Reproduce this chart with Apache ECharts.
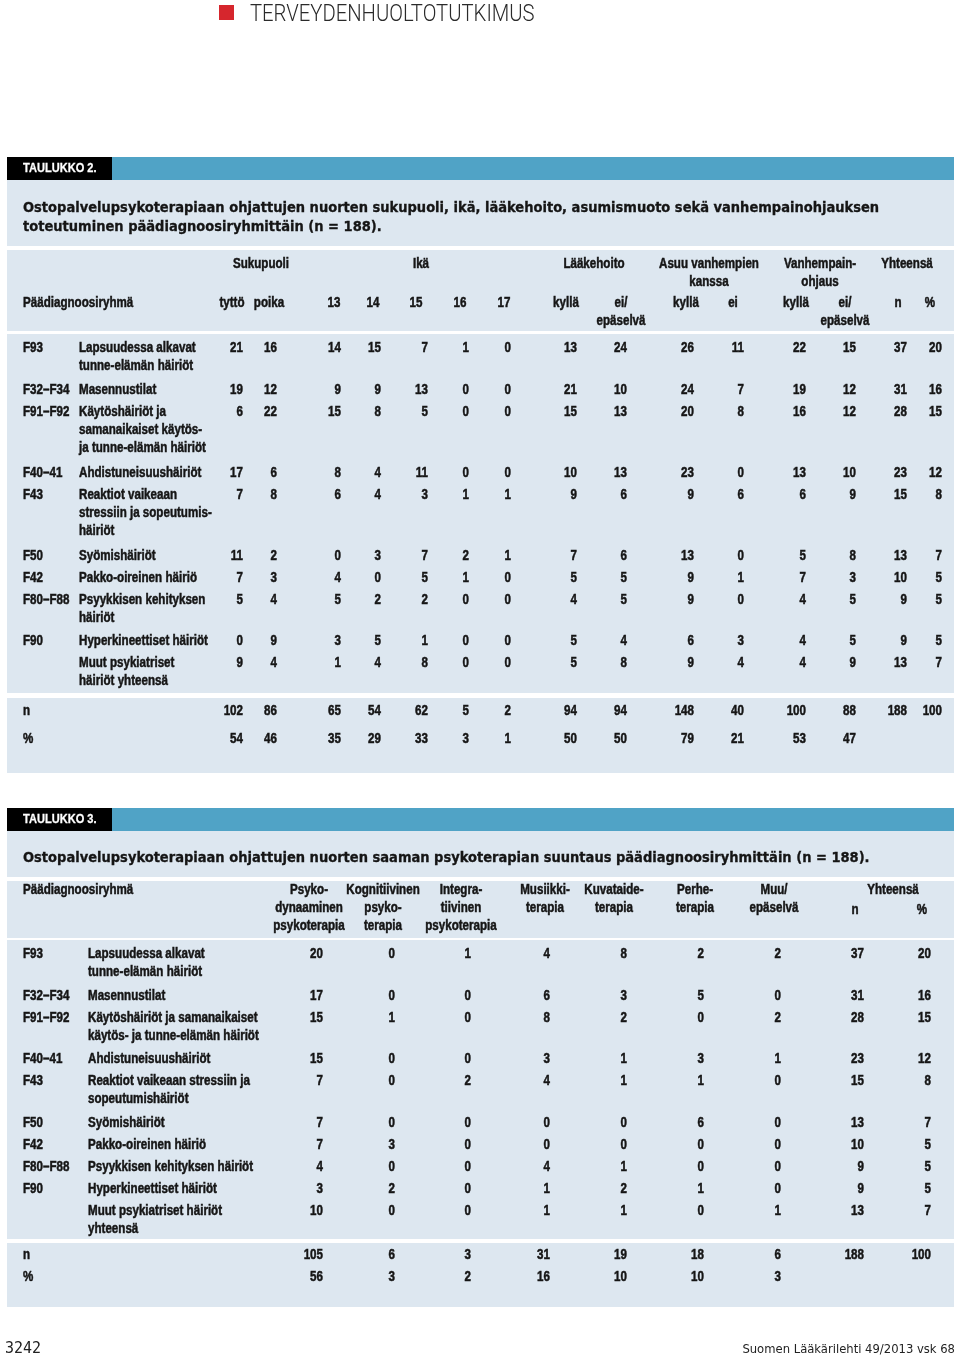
<!DOCTYPE html>
<html><head><meta charset="utf-8">
<script src="https://cdn.jsdelivr.net/npm/echarts@6/dist/echarts.min.js"></script>
<style>html,body{margin:0;padding:0;background:#fff}#c{width:960px;height:1356px}</style>
</head><body><div id="c"></div>
<script>
// ================= DATA =================
// Taulukko 2
const t2Title = 'Ostopalvelupsykoterapiaan ohjattujen nuorten sukupuoli, ikä, lääkehoito, asumismuoto sekä vanhempainohjauksen\ntoteutuminen päädiagnoosiryhmittäin (n = 188).';
const t2GroupHeads = ['Sukupuoli','Ikä','Lääkehoito','Asuu vanhempien\nkanssa','Vanhempain-\nohjaus','Yhteensä'];
const t2ColHeads = ['tyttö','poika','13','14','15','16','17','kyllä','ei/\nepäselvä','kyllä','ei','kyllä','ei/\nepäselvä','n','%'];
const t2Codes = ['F93','F32–F34','F91–F92','F40–41','F43','F50','F42','F80–F88','F90',''];
const t2Names = ['Lapsuudessa alkavat\ntunne-elämän häiriöt','Masennustilat','Käytöshäiriöt ja\nsamanaikaiset käytös-\nja tunne-elämän häiriöt','Ahdistuneisuushäiriöt','Reaktiot vaikeaan\nstressiin ja sopeutumis-\nhäiriöt','Syömishäiriöt','Pakko-oireinen häiriö','Psyykkisen kehityksen\nhäiriöt','Hyperkineettiset häiriöt','Muut psykiatriset\nhäiriöt yhteensä'];
const t2Girl     = [21,19, 6,17, 7,11, 7, 5, 0, 9];
const t2Boy      = [16,12,22, 6, 8, 2, 3, 4, 9, 4];
const t2Age13    = [14, 9,15, 8, 6, 0, 4, 5, 3, 1];
const t2Age14    = [15, 9, 8, 4, 4, 3, 0, 2, 5, 4];
const t2Age15    = [ 7,13, 5,11, 3, 7, 5, 2, 1, 8];
const t2Age16    = [ 1, 0, 0, 0, 1, 2, 1, 0, 0, 0];
const t2Age17    = [ 0, 0, 0, 0, 1, 1, 0, 0, 0, 0];
const t2MedYes   = [13,21,15,10, 9, 7, 5, 4, 5, 5];
const t2MedNo    = [24,10,13,13, 6, 6, 5, 5, 4, 8];
const t2LiveYes  = [26,24,20,23, 9,13, 9, 9, 6, 9];
const t2LiveNo   = [11, 7, 8, 0, 6, 0, 1, 0, 3, 4];
const t2GuideYes = [22,19,16,13, 6, 5, 7, 4, 4, 4];
const t2GuideNo  = [15,12,12,10, 9, 8, 3, 5, 5, 9];
const t2TotN     = [37,31,28,23,15,13,10, 9, 9,13];
const t2TotPct   = [20,16,15,12, 8, 7, 5, 5, 5, 7];
const t2SumN     = [102,86,65,54,62,5,2,94,94,148,40,100,88,188,100];
const t2SumPct   = [54,46,35,29,33,3,1,50,50,79,21,53,47,'',''];

// Taulukko 3
const t3Title = 'Ostopalvelupsykoterapiaan ohjattujen nuorten saaman psykoterapian suuntaus päädiagnoosiryhmittäin (n = 188).';
const t3ColHeads = ['Psyko-\ndynaaminen\npsykoterapia','Kognitiivinen\npsyko-\nterapia','Integra-\ntiivinen\npsykoterapia','Musiikki-\nterapia','Kuvataide-\nterapia','Perhe-\nterapia','Muu/\nepäselvä'];
const t3Codes = ['F93','F32–F34','F91–F92','F40–41','F43','F50','F42','F80–F88','F90',''];
const t3Names = ['Lapsuudessa alkavat\ntunne-elämän häiriöt','Masennustilat','Käytöshäiriöt ja samanaikaiset\nkäytös- ja tunne-elämän häiriöt','Ahdistuneisuushäiriöt','Reaktiot vaikeaan stressiin ja\nsopeutumishäiriöt','Syömishäiriöt','Pakko-oireinen häiriö','Psyykkisen kehityksen häiriöt','Hyperkineettiset häiriöt','Muut psykiatriset häiriöt\nyhteensä'];
const t3Psychodyn = [20,17,15,15, 7, 7, 7, 4, 3,10];
const t3Cognitive = [ 0, 0, 1, 0, 0, 0, 3, 0, 2, 0];
const t3Integr    = [ 1, 0, 0, 0, 2, 0, 0, 0, 0, 0];
const t3Music     = [ 4, 6, 8, 3, 4, 0, 0, 4, 1, 1];
const t3Art       = [ 8, 3, 2, 1, 1, 0, 0, 1, 2, 1];
const t3Family    = [ 2, 5, 0, 3, 1, 6, 0, 0, 1, 0];
const t3Other     = [ 2, 0, 2, 1, 0, 0, 0, 0, 0, 1];
const t3TotN      = [37,31,28,23,15,13,10, 9, 9,13];
const t3TotPct    = [20,16,15,12, 8, 7, 5, 5, 5, 7];
const t3SumN      = [105,6,3,31,19,18,6,188,100];
const t3SumPct    = [56,3,2,16,10,10,3,'',''];

// ================= LAYOUT / STYLE =================
const C_TEXT = '#151515', C_PANEL = '#dde7f0', C_BLUE = '#50a3c6';
const LINE = 18, ROW1 = 22, ROWX = 19.5;
const L2 = { numRight:[243,277,341,381,428,469,511,577,627,694,744,806,856,907,942],
  headCenter:[232,269,334,373,416,460,504,566,621,686,733,796,845,898,930],
  groupCenter:[261,421,594,709,820,907], headY1:264, headY2:303, bodyY:348, sumY:[711,739],
  codeX:23, nameX:79 };
const L3 = { numRight:[323,395,471,550,627,704,781,864,931],
  headCenter:[309,383,461,545,614,695,774], totHeadCenter:893, nPctHead:[855,922], headY:890, nPctY:910,
  bodyY:954, sumY:[1255,1277], codeX:23, nameX:88 };

const cells = [];
function add(x, y, text, align, font, color) {
  cells.push({ x, y, text: String(text), align: align || 'left', font: font || 'body', color: color || C_TEXT });
}
function rowYs(names, y0) {
  const ys = []; let y = y0;
  names.forEach(n => { ys.push(y); y += ROW1 + (n.split('\n').length - 1) * ROWX; });
  return ys;
}

// Table 2 cells
add(23, 208 - 19/2, t2Title, 'left', 'title');
add(23, 168 - LINE/2, 'TAULUKKO 2.', 'left', 'tag', '#fff');
t2GroupHeads.forEach((h, i) => add(L2.groupCenter[i], L2.headY1 - LINE/2, h, 'center', 'body'));
add(L2.codeX, L2.headY2 - LINE/2, 'Päädiagnoosiryhmä', 'left');
t2ColHeads.forEach((h, i) => add(L2.headCenter[i], L2.headY2 - LINE/2, h, 'center'));
const t2Cols = [t2Girl,t2Boy,t2Age13,t2Age14,t2Age15,t2Age16,t2Age17,t2MedYes,t2MedNo,t2LiveYes,t2LiveNo,t2GuideYes,t2GuideNo,t2TotN,t2TotPct];
rowYs(t2Names, L2.bodyY).forEach((y, r) => {
  add(L2.codeX, y - LINE/2, t2Codes[r]);
  add(L2.nameX, y - LINE/2, t2Names[r]);
  t2Cols.forEach((col, c) => add(L2.numRight[c], y - LINE/2, col[r], 'right'));
});
add(L2.codeX, L2.sumY[0] - LINE/2, 'n'); add(L2.codeX, L2.sumY[1] - LINE/2, '%');
t2SumN.forEach((v, c) => add(L2.numRight[c], L2.sumY[0] - LINE/2, v, 'right'));
t2SumPct.forEach((v, c) => add(L2.numRight[c], L2.sumY[1] - LINE/2, v, 'right'));

// Table 3 cells
add(23, 858 - 19/2, t3Title, 'left', 'title');
add(23, 819 - LINE/2, 'TAULUKKO 3.', 'left', 'tag', '#fff');
add(L3.codeX, L3.headY - LINE/2, 'Päädiagnoosiryhmä');
t3ColHeads.forEach((h, i) => add(L3.headCenter[i], L3.headY - LINE/2, h, 'center'));
add(L3.totHeadCenter, L3.headY - LINE/2, 'Yhteensä', 'center');
add(L3.nPctHead[0], L3.nPctY - LINE/2, 'n', 'center');
add(L3.nPctHead[1], L3.nPctY - LINE/2, '%', 'center');
const t3Cols = [t3Psychodyn,t3Cognitive,t3Integr,t3Music,t3Art,t3Family,t3Other,t3TotN,t3TotPct];
rowYs(t3Names, L3.bodyY).forEach((y, r) => {
  add(L3.codeX, y - LINE/2, t3Codes[r]);
  add(L3.nameX, y - LINE/2, t3Names[r]);
  t3Cols.forEach((col, c) => add(L3.numRight[c], y - LINE/2, col[r], 'right'));
});
add(L3.codeX, L3.sumY[0] - LINE/2, 'n'); add(L3.codeX, L3.sumY[1] - LINE/2, '%');
t3SumN.forEach((v, c) => add(L3.numRight[c], L3.sumY[0] - LINE/2, v, 'right'));
t3SumPct.forEach((v, c) => add(L3.numRight[c], L3.sumY[1] - LINE/2, v, 'right'));

const FONTS = {
  body:  { font: 'bold 14.5px "Liberation Sans", Arial, sans-serif', lh: LINE, sx: 0.8, sw: 0.5 },
  title: { font: 'bold 14.5px "DejaVu Sans Condensed", "DejaVu Sans", sans-serif', lh: 19, sx: 1, sw: 0.3 },
  tag:   { font: 'bold 13.5px "Liberation Sans", Arial, sans-serif', lh: LINE, sx: 0.82, sw: 0.3 }
};

const chart = echarts.init(document.getElementById('c'), null, { renderer: 'canvas' });
const panel = (x, y, w, h, fill) => ({ type: 'rect', shape: { x, y, width: w, height: h }, style: { fill }, silent: true, z: -10 });
chart.setOption({
  animation: false,
  backgroundColor: '#fff',
  grid: { left: 0, top: 0, right: 0, bottom: 0 },
  xAxis: { type: 'value', min: 0, max: 960, show: false },
  yAxis: { type: 'value', min: 0, max: 1356, inverse: true, show: false },
  graphic: [
    panel(219, 5, 15, 15, '#d6262d'),
    { type: 'text', x: 250, y: 15, scaleX: 0.88, style: { text: 'TERVEYDENHUOLTOTUTKIMUS', font: '300 23px Roboto, "Open Sans", sans-serif', fill: '#2a2a2a', verticalAlign: 'middle' } },
    panel(7, 157, 105, 23, '#000'), panel(112, 157, 842, 23, C_BLUE),
    panel(7, 180, 947, 66, C_PANEL), panel(7, 250, 947, 81, C_PANEL),
    panel(7, 334, 947, 359, C_PANEL), panel(7, 698, 947, 75, C_PANEL),
    panel(7, 808, 105, 23, '#000'), panel(112, 808, 842, 23, C_BLUE),
    panel(7, 831, 947, 46, C_PANEL), panel(7, 881, 947, 57, C_PANEL),
    panel(7, 940, 947, 299, C_PANEL), panel(7, 1243, 947, 64, C_PANEL),
    { type: 'text', x: 5, y: 1349, style: { text: '3242', font: '15px "DejaVu Sans Mono", monospace', fill: '#222', verticalAlign: 'middle' } },
    { type: 'text', x: 955, y: 1350, style: { text: 'Suomen Lääkärilehti 49/2013 vsk 68', font: '11.6px "DejaVu Sans", sans-serif', fill: '#222', align: 'right', verticalAlign: 'middle' } }
  ],
  series: [{
    type: 'custom',
    coordinateSystem: 'cartesian2d',
    data: cells.map(c => [c.x, c.y]),
    renderItem: function (params, api) {
      const c = cells[params.dataIndex];
      const p = api.coord([api.value(0), api.value(1)]);
      const f = FONTS[c.font];
      return { type: 'text', x: p[0], y: p[1], scaleX: f.sx,
        style: { text: c.text, font: f.font, lineHeight: f.lh, fill: c.color, stroke: c.color, lineWidth: f.sw,
          align: c.align, verticalAlign: 'top' } };
    },
    silent: true
  }]
});
</script></body></html>
